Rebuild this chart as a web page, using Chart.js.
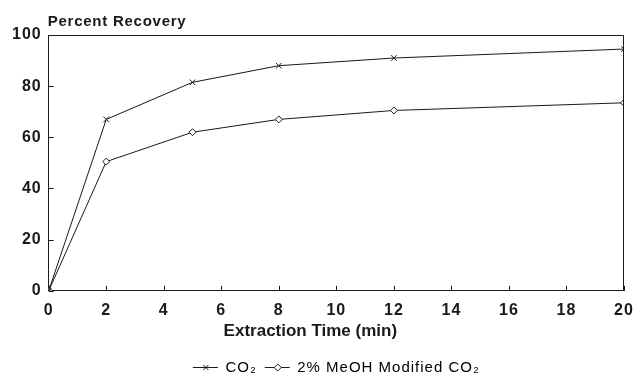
<!DOCTYPE html>
<html>
<head>
<meta charset="utf-8">
<script src="https://cdn.jsdelivr.net/npm/chart.js@4"></script>
<style>
  html, body { margin: 0; padding: 0; background: #fff; }
  #wrap { width: 634px; height: 385px; }
</style>
</head>
<body>
<div id="wrap"><canvas id="myChart"></canvas></div>
<script>
const times = [0, 2, 5, 8, 12, 20];
const co2 = [0, 67, 81.5, 88, 91, 94.5];
const meoh = [0, 50.5, 62, 67, 70.5, 73.5];
const xTicks = [0, 2, 4, 6, 8, 10, 12, 14, 16, 18, 20];
const yTicks = [0, 20, 40, 60, 80, 100];
const yTitle = "Percent Recovery";
const xTitle = "Extraction Time (min)";

const FONT = "'Liberation Sans', Arial, sans-serif";
const INK = "#1a1a1a";

const pts = (ys) => times.map((t, i) => ({ x: t, y: ys[i] }));

// the scanned original has slightly spaced-out lettering
const spacing = {
  id: "spacing",
  beforeLayout(chart) { chart.ctx.letterSpacing = "1px"; },
  beforeDraw(chart) { chart.ctx.letterSpacing = "1px"; },
};

// frame, inward tick marks, axis titles, legend line+marker
const extras = {
  id: "extras",
  afterDraw(chart) {
    const c = chart.ctx;
    const a = chart.chartArea;
    const xs = chart.scales.x;
    const ys = chart.scales.y;
    c.save();
    c.strokeStyle = INK;
    c.lineWidth = 1;
    c.beginPath();
    const t = Math.round(a.top) + 0.5;
    const r = Math.round(a.right) - 0.5;
    c.moveTo(a.left, t);
    c.lineTo(r, t);
    c.lineTo(r, a.bottom);
    xTicks.forEach((v) => {
      const px = Math.round(xs.getPixelForValue(v)) + 0.5;
      c.moveTo(px, a.bottom);
      c.lineTo(px, a.bottom - 5);
    });
    yTicks.forEach((v) => {
      const py = Math.round(ys.getPixelForValue(v)) + 0.5;
      c.moveTo(a.left, py);
      c.lineTo(a.left + 5, py);
    });
    c.stroke();

    c.fillStyle = INK;
    c.textBaseline = "alphabetic";
    c.letterSpacing = "0.75px";
    c.font = "bold 15px " + FONT;
    c.textAlign = "left";
    c.fillText(yTitle, a.left - 1, a.top - 9);

    c.letterSpacing = "0px";
    c.font = "bold 17px " + FONT;
    c.textAlign = "center";
    c.fillText(xTitle, (a.left + a.right) / 2 - 26, a.bottom + 45);

    chart.legend.legendHitBoxes.forEach((box, i) => {
      const ds = chart.data.datasets[i];
      const cy = box.top + box.height / 2;
      c.beginPath();
      c.moveTo(box.left, cy);
      c.lineTo(box.left + 25, cy);
      c.stroke();
      c.fillStyle = "#fff";
      Chart.helpers.drawPoint(c, { pointStyle: ds.pointStyle, radius: 3.5, rotation: 0, borderWidth: 1 }, box.left + 13, cy);
    });
    c.restore();
  },
};

new Chart(document.getElementById("myChart"), {
  type: "line",
  data: {
    datasets: [
      {
        label: "CO₂",
        data: pts(co2),
        borderColor: INK,
        borderWidth: 1,
        pointStyle: "crossRot",
        pointRadius: 4,
        pointBorderColor: INK,
        pointBackgroundColor: "#fff",
        tension: 0,
      },
      {
        label: "2% MeOH Modified CO₂",
        data: pts(meoh),
        borderColor: INK,
        borderWidth: 1,
        pointStyle: "rectRot",
        pointRadius: 3.5,
        pointBorderColor: INK,
        pointBackgroundColor: "#fff",
        tension: 0,
      },
    ],
  },
  plugins: [spacing, extras],
  options: {
    responsive: true,
    maintainAspectRatio: false,
    animation: false,
    layout: { padding: { top: 35, right: 1, left: 5, bottom: 0 } },
    plugins: {
      legend: {
        position: "bottom",
        fullSize: false,
        labels: {
          color: INK,
          font: { family: FONT, size: 15 },
          boxWidth: 25,
          boxHeight: 8,
          padding: 8,
          generateLabels: (chart) =>
            chart.data.datasets.map((ds, i) => ({
              text: ds.label,
              fillStyle: "rgba(0,0,0,0)",
              strokeStyle: "rgba(0,0,0,0)",
              lineWidth: 0,
              datasetIndex: i,
            })),
        },
      },
      tooltip: { enabled: false },
    },
    scales: {
      x: {
        type: "linear",
        min: 0,
        max: 20,
        afterBuildTicks: (s) => { s.ticks = xTicks.map((v) => ({ value: v })); },
        afterFit: (s) => { s.height += 22; s.paddingRight = 10; },
        grid: { display: false, drawTicks: false },
        border: { color: INK, width: 1 },
        ticks: { color: INK, padding: 10, maxRotation: 0, font: { family: FONT, size: 16, weight: "bold" } },
      },
      y: {
        min: 0,
        max: 100,
        afterBuildTicks: (s) => { s.ticks = yTicks.map((v) => ({ value: v })); },
        grid: { display: false, drawTicks: false },
        border: { color: INK, width: 1 },
        ticks: { color: INK, padding: 7, font: { family: FONT, size: 16, weight: "bold" } },
      },
    },
  },
});
</script>
</body>
</html>
